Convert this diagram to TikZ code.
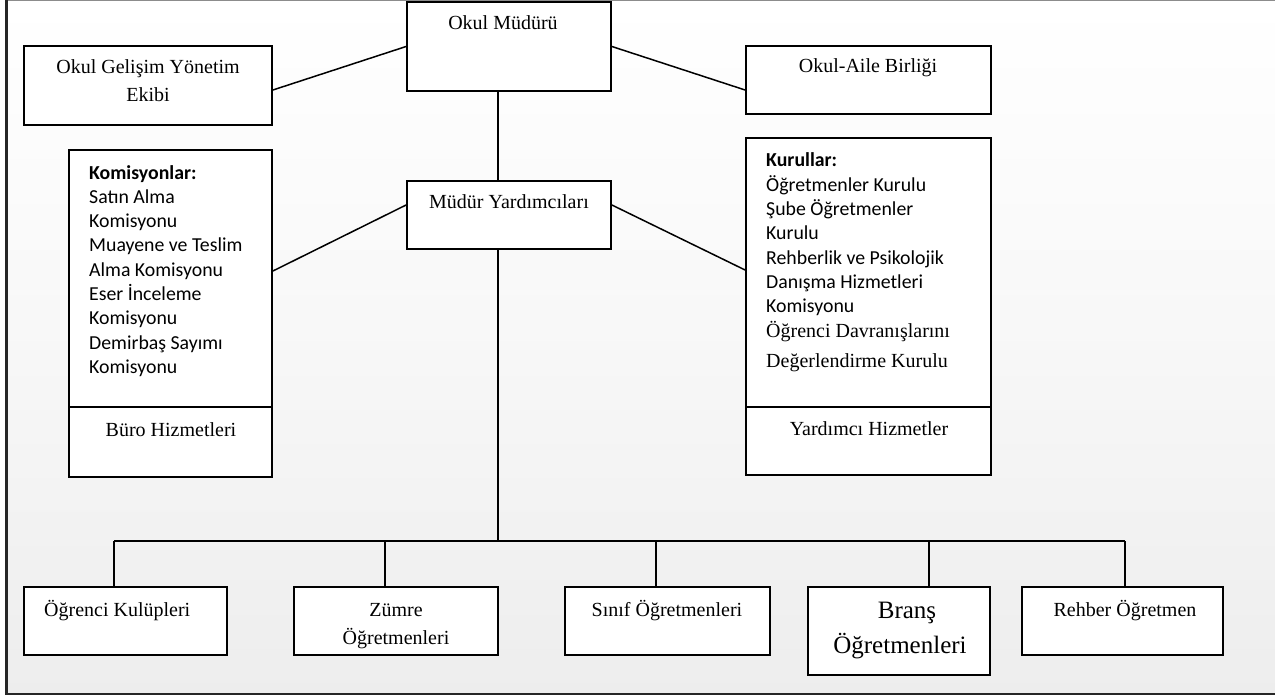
\documentclass[tikz,border=0pt]{standalone}
\usepackage{fontspec}
\setmainfont{Liberation Serif}
\newfontfamily\calfont{Carlito}
\begin{document}
\begin{tikzpicture}[x=1pt,y=-1pt,
  box/.style={draw=black, line width=1.8pt, fill=white, inner sep=0pt},
  conn/.style={line width=1.5pt, draw=black},
  tnr/.style={inner sep=0pt, anchor=base, font=\fontsize{20}{28}\selectfont},
  cal/.style={inner sep=0pt, anchor=base west, font=\calfont\fontsize{19.8}{24.3}\selectfont}]
\useasboundingbox (0,0) rectangle (1275,698);
% background and frame
\fill[top color=white, bottom color=black!7, middle color=black!3] (5,0) rectangle (1275,694);
\draw[black!45, line width=1pt] (5,0.5) -- (1275,0.5);
\draw[black!85, line width=2.2pt] (6.5,0) -- (6.5,694) -- (1275,694);

% boxes
\node[box, minimum width=204pt, minimum height=89pt] (om) at (509,46.5) {};
\node[box, minimum width=248pt, minimum height=79pt] (ogye) at (148,85.5) {};
\node[box, minimum width=245pt, minimum height=68pt] (oab) at (868.5,80) {};
\node[box, minimum width=204pt, minimum height=68pt] (my) at (509,215) {};
\node[box, minimum width=203pt, minimum height=257pt] (kom) at (170.5,278.5) {};
\node[box, minimum width=203pt, minimum height=70pt] (buro) at (170.5,442) {};
\node[box, minimum width=245pt, minimum height=269pt] (kur) at (868.5,272.5) {};
\node[box, minimum width=245pt, minimum height=68pt] (yard) at (868.5,441) {};
\node[box, minimum width=203pt, minimum height=68pt] (ogk) at (125.5,621) {};
\node[box, minimum width=204pt, minimum height=68pt] (zum) at (396,621) {};
\node[box, minimum width=205pt, minimum height=68pt] (sin) at (667.5,621) {};
\node[box, minimum width=182pt, minimum height=88pt] (bra) at (899,631) {};
\node[box, minimum width=201pt, minimum height=68pt] (reh) at (1122.5,621) {};

% texts
\node[tnr] (tom) at (503,30) {Okul Müdürü};
\node[tnr] (togye) at (148,74) {\begin{tabular}[t]{@{}c@{}}Okul Gelişim Yönetim\\Ekibi\end{tabular}};
\node[tnr] (toab) at (868,73) {Okul-Aile Birliği};
\node[tnr] (tmy) at (509,208) {Müdür Yardımcıları};
\node[cal] (tkom) at (89,179) {\begin{tabular}[t]{@{}l@{}}\textbf{Komisyonlar:}\\Satın Alma\\Komisyonu\\Muayene ve Teslim\\Alma Komisyonu\\Eser İnceleme\\Komisyonu\\Demirbaş Sayımı\\Komisyonu\end{tabular}};
\node[tnr] (tburo) at (171,436) {Büro Hizmetleri};
\node[cal] (tkur) at (766,167) {\begin{tabular}[t]{@{}l@{}}\textbf{Kurullar:}\\Öğretmenler Kurulu\\Şube Öğretmenler\\Kurulu\\Rehberlik ve Psikolojik\\Danışma Hizmetleri\\Komisyonu\end{tabular}};
\node[tnr, anchor=base west, font=\fontsize{20}{30}\selectfont] (tkur2) at (766,337) {\begin{tabular}[t]{@{}l@{}}Öğrenci Davranışlarını\\Değerlendirme Kurulu\end{tabular}};
\node[tnr] (tyard) at (869,435) {Yardımcı Hizmetler};
\node[tnr, anchor=base west] (togk) at (44,616) {Öğrenci Kulüpleri};
\node[tnr] (tzum) at (396,616) {\begin{tabular}[t]{@{}c@{}}Zümre\\Öğretmenleri\end{tabular}};
\node[tnr] (tsin) at (667,616) {Sınıf Öğretmenleri};
\node[tnr, font=\fontsize{25}{35}\selectfont] (tbra) at (900,618) {\begin{tabular}[t]{@{}c@{}}\hspace*{14pt}Branş\\Öğretmenleri\end{tabular}};
\node[tnr] (treh) at (1125,616) {Rehber Öğretmen};

% connectors
\coordinate (myb) at (498,541);
\coordinate (b1) at (114,541);
\coordinate (b2) at (385,541);
\coordinate (b3) at (656,541);
\coordinate (b4) at (929,541);
\coordinate (b5) at (1125,541);
\draw[conn] ([yshift=-4.5pt]ogye.east) -- (om.west);
\draw[conn] (om.east) -- ([yshift=-10pt]oab.west);
\draw[conn] (om.south -| myb) -- (my.north -| myb);
\draw[conn] ([yshift=10pt]my.west) -- ([yshift=7.5pt]kom.east);
\draw[conn] ([yshift=10pt]my.east) -- ([yshift=2.5pt]kur.west);
\draw[conn] (my.south -| myb) -- (myb);
\draw[conn] (b1) -- (b5);
\draw[conn] (b1) -- (b1 |- ogk.north);
\draw[conn] (b2) -- (b2 |- zum.north);
\draw[conn] (b3) -- (b3 |- sin.north);
\draw[conn] (b4) -- (b4 |- bra.north);
\draw[conn] (b5) -- (b5 |- reh.north);
\end{tikzpicture}
\end{document}
